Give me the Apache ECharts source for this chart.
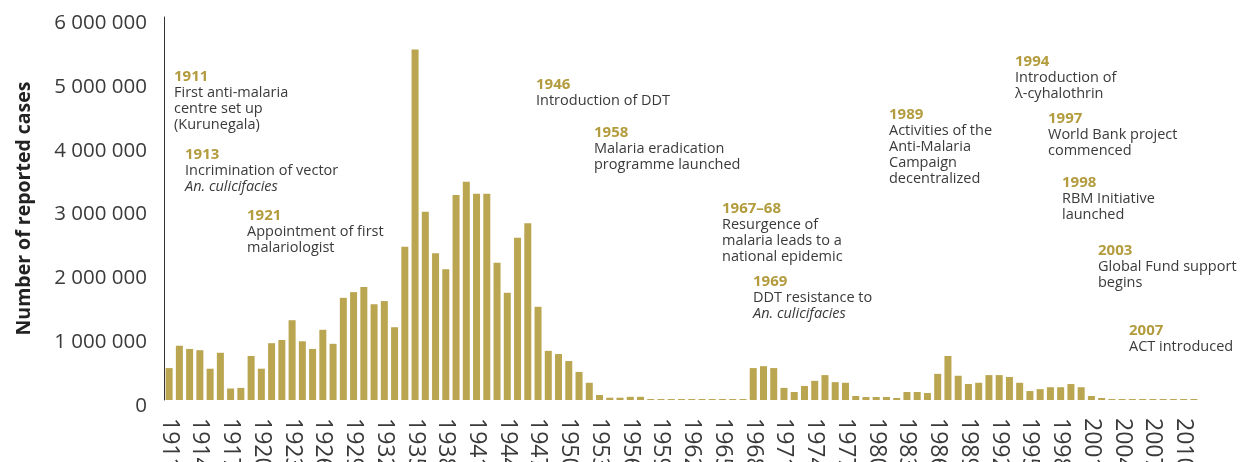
<!DOCTYPE html>
<html>
<head>
<meta charset="utf-8">
<title>Malaria cases</title>
<script src="https://cdn.jsdelivr.net/npm/echarts@6/dist/echarts.min.js"></script>
<style>
  html, body { margin: 0; padding: 0; background: #fff; }
  #chart { width: 1240px; height: 462px; }
</style>
</head>
<body>
<div id="chart"></div>
<script>
// years 1911..2011
const years = [];
for (let y = 1911; y <= 2011; y++) years.push(String(y));

// reported cases
const cases = [
  500000, 850000, 800000, 780000, 490000, 740000, 180000, 190000, 690000, 490000, // 1911-1920
  890000, 940000, 1250000, 920000, 800000, 1100000, 880000, 1600000, 1690000, 1770000, // 1921-1930
  1500000, 1550000, 1140000, 2400000, 5490000, 2950000, 2300000, 2050000, 3210000, 3420000, // 1931-1940
  3230000, 3230000, 2150000, 1680000, 2540000, 2770000, 1460000, 770000, 720000, 610000, // 1941-1950
  440000, 270000, 78000, 36000, 36000, 50000, 50000, 15000, 15000, 15000, // 1951-1960
  15000, 15000, 15000, 15000, 15000, 15000, 15000, 500000, 530000, 500000, // 1961-1970
  190000, 125000, 220000, 300000, 390000, 280000, 270000, 63000, 47000, 47000, // 1971-1980
  47000, 31000, 125000, 125000, 110000, 410000, 690000, 380000, 250000, 270000, // 1981-1990
  390000, 390000, 360000, 270000, 140000, 170000, 200000, 200000, 250000, 200000, // 1991-2000
  63000, 31000, 15000, 15000, 15000, 15000, 15000, 15000, 15000, 15000, 15000      // 2001-2011
];

const yTicks = [0, 1000000, 2000000, 3000000, 4000000, 5000000, 6000000];

// annotations
const annYears = ['1911', '1913', '1921', '1946', '1958', '1967–68', '1969', '1989', '1994', '1997', '1998', '2003', '2007'];
const annLines = [
  ['First anti-malaria', 'centre set up', '(Kurunegala)'],
  ['Incrimination of vector', '*An. culicifacies'],
  ['Appointment of first', 'malariologist'],
  ['Introduction of DDT'],
  ['Malaria eradication', 'programme launched'],
  ['Resurgence of', 'malaria leads to a', 'national epidemic'],
  ['DDT resistance to', '*An. culicifacies'],
  ['Activities of the', 'Anti-Malaria', 'Campaign', 'decentralized'],
  ['Introduction of', 'λ-cyhalothrin'],
  ['World Bank project', 'commenced'],
  ['RBM Initiative', 'launched'],
  ['Global Fund support', 'begins'],
  ['ACT introduced']
];
// layout of the annotation blocks (left, top in px)
const annPos = [[174,69],[185,147],[247,208],[536,77],[594,125],[722,201],[753,274],[889,107],[1015,54],[1048,111],[1062,175],[1098,243],[1129,323]];

const FONT = '"Open Sans", "Noto Sans", sans-serif';
const GOLD = '#baa550';

const fmt = v => String(v).replace(/\B(?=(\d{3})+(?!\d))/g, ' ');

const graphics = annYears.map((yr, i) => {
  let txt = '{y|' + yr + '}';
  annLines[i].forEach(l => {
    if (l[0] === '*') txt += '\n{i|' + l.slice(1) + '}';
    else txt += '\n{d|' + l + '}';
  });
  return {
    type: 'text',
    x: annPos[i][0],
    y: annPos[i][1],
    style: {
      text: txt,
      verticalAlign: 'top',
      align: 'left',
      rich: {
        y: { fontFamily: FONT, fontSize: 15, fontWeight: 'bold', fill: '#b39c3e', lineHeight: 16 },
        d: { fontFamily: FONT, fontSize: 14.5, fill: '#3a3a3a', lineHeight: 16 },
        i: { fontFamily: FONT, fontSize: 14.5, fontStyle: 'italic', fill: '#3a3a3a', lineHeight: 16 }
      }
    }
  };
});

const chart = echarts.init(document.getElementById('chart'));
chart.setOption({
  animation: false,
  grid: { left: 164, right: 41, top: 17, bottom: 62, containLabel: false, outerBoundsMode: 'none' },
  xAxis: {
    type: 'category',
    data: years,
    axisLine: { show: false },
    axisTick: { show: false },
    axisLabel: {
      interval: 2,
      rotate: -90,
      margin: 18,
      fontFamily: FONT,
      fontSize: 23,
      color: '#3a3a3a'
    }
  },
  yAxis: {
    type: 'value',
    min: yTicks[0],
    max: yTicks[yTicks.length - 1],
    interval: 1000000,
    name: 'Number of reported cases',
    nameLocation: 'middle',
    nameGap: 130,
    nameTextStyle: { fontFamily: FONT, fontSize: 19.5, fontWeight: 'bold', color: '#222' },
    splitLine: { show: false },
    axisTick: { show: false },
    axisLine: { show: true, lineStyle: { color: '#333', width: 1 } },
    axisLabel: {
      margin: 17,
      verticalAlign: 'top',
      lineHeight: 12,
      fontFamily: FONT,
      fontSize: 20.5,
      color: '#3a3a3a',
      formatter: fmt
    }
  },
  series: [{
    type: 'bar',
    data: cases,
    barWidth: 7,
    itemStyle: { color: GOLD }
  }],
  graphic: graphics
});
</script>
</body>
</html>
